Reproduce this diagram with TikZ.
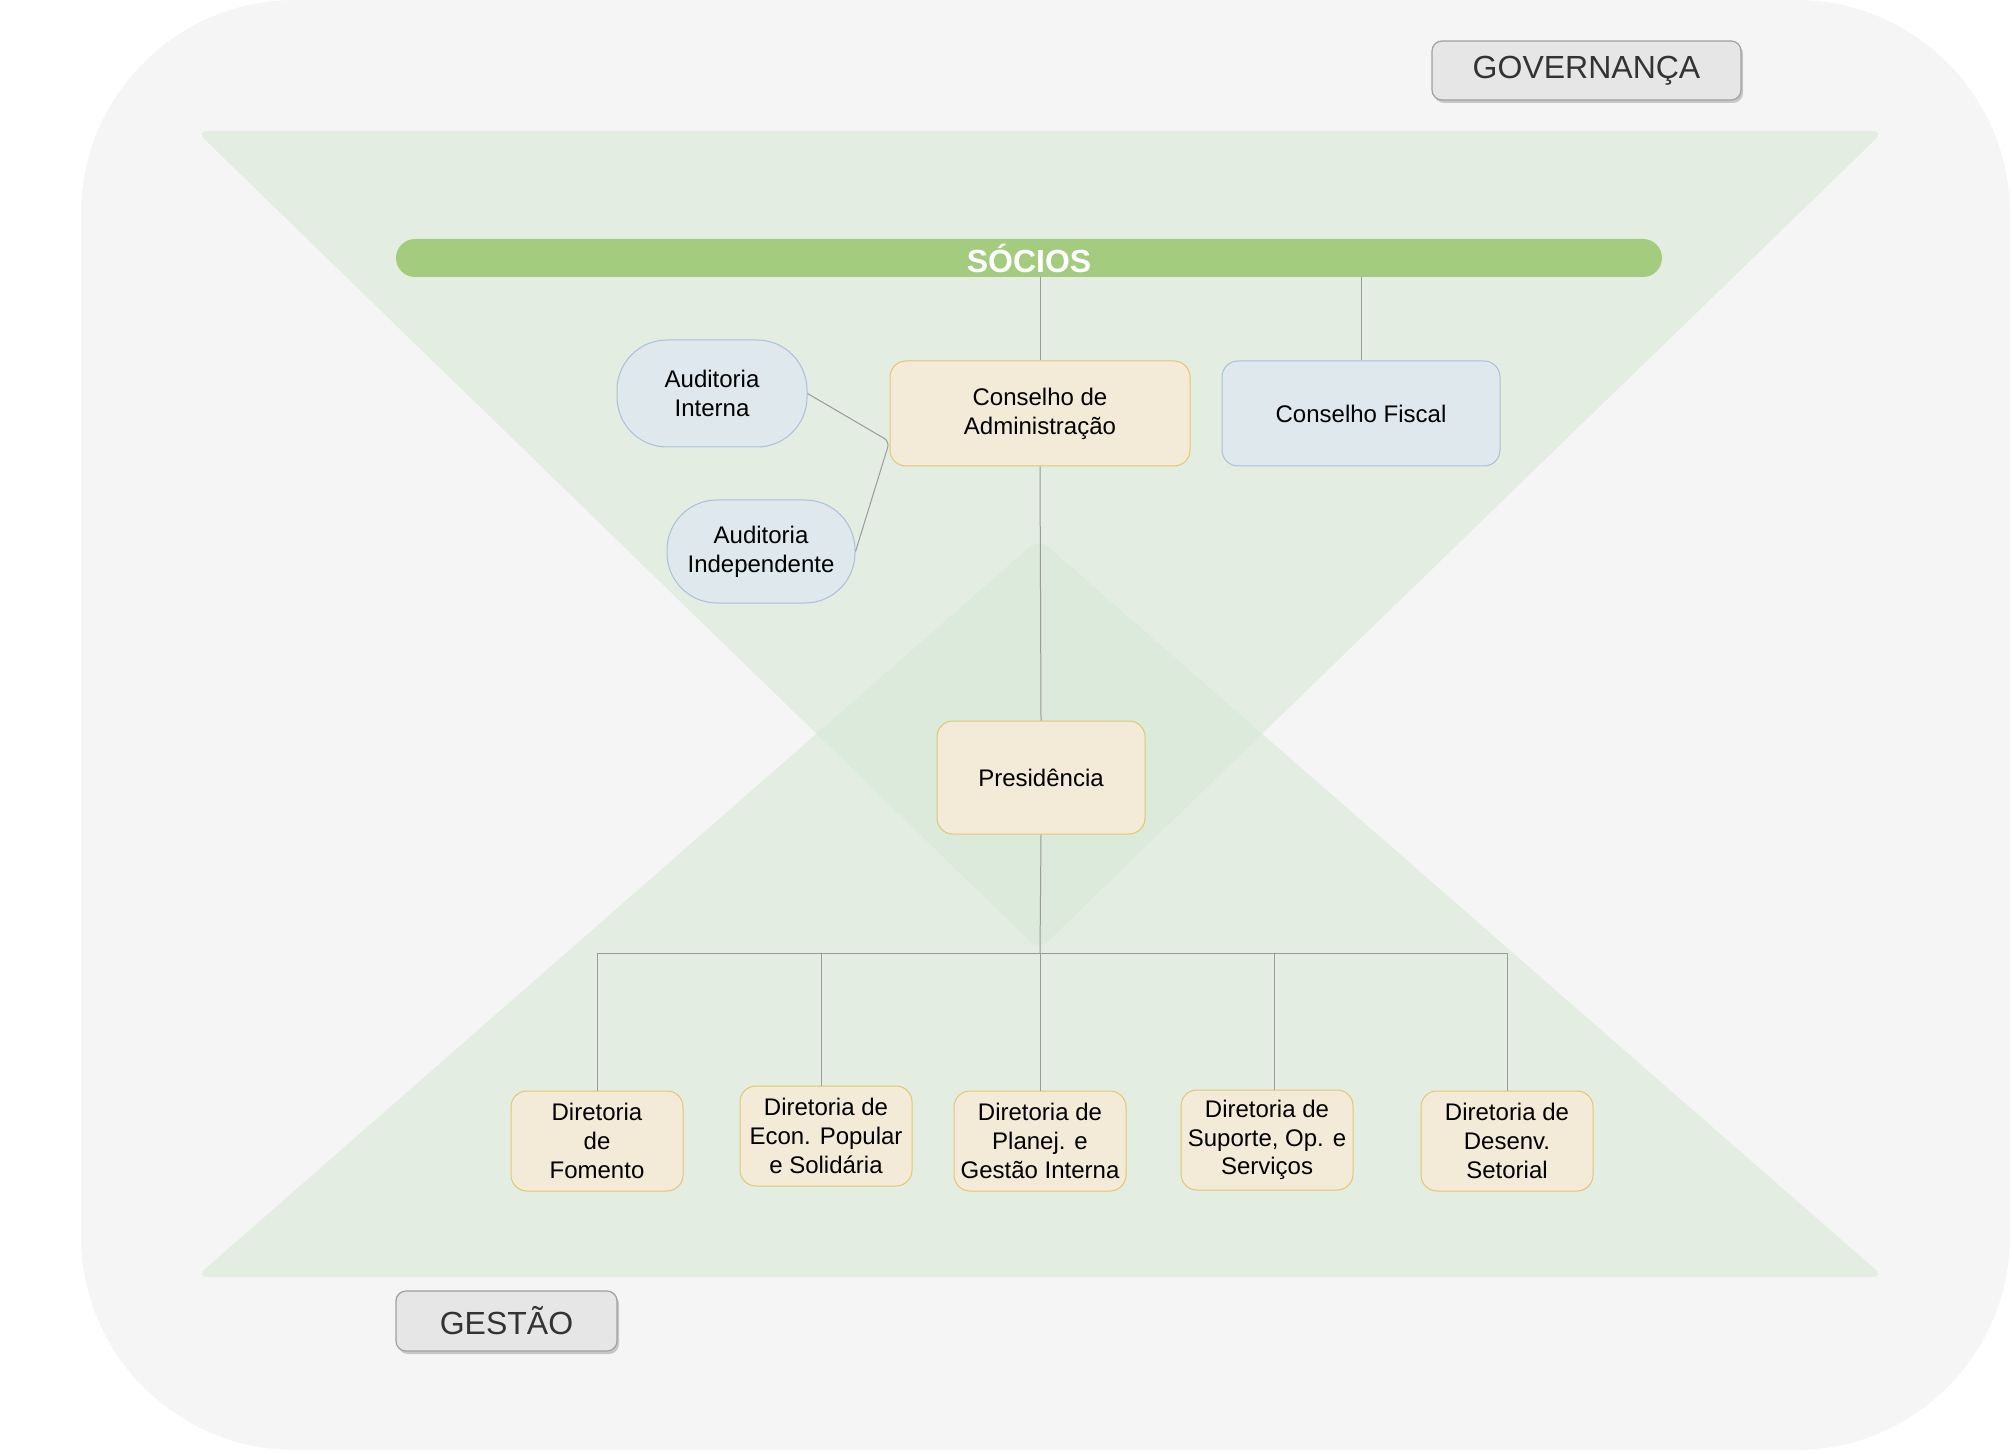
\documentclass[tikz,border=0pt]{standalone}
\usepackage{fontspec}
\setmainfont{Liberation Sans}
\usetikzlibrary{shadows,calc}
\definecolor{bgc}{HTML}{F5F5F5}
\definecolor{trig}{HTML}{D5E8D4}
\definecolor{barc}{HTML}{A3CC7F}
\definecolor{yfill}{HTML}{F3EBD8}
\definecolor{ydraw}{HTML}{E3C76E}
\definecolor{bfill}{HTML}{DEE8ED}
\definecolor{bdraw}{HTML}{A9C0D8}
\definecolor{linec}{HTML}{9A9A9A}
\definecolor{lblfill}{HTML}{E6E6E6}
\definecolor{lbldraw}{HTML}{A0A0A0}
\definecolor{txtc}{HTML}{333333}
\tikzset{
  base/.style={align=center, inner sep=2pt, font=\fontsize{12}{14.4}\selectfont, text=black, line width=0.5pt},
  ybox/.style={base, fill=yfill, draw=ydraw, rounded corners=8pt},
  bbox/.style={base, fill=bfill, draw=bdraw, rounded corners=8pt},
  pill/.style={base, fill=bfill, draw=bdraw, rounded corners=25pt},
  dir/.style={ybox, minimum width=86pt, minimum height=50pt},
  lbl/.style={fill=lblfill, draw=lbldraw, line width=0.6pt, rounded corners=5pt, text=txtc,
    font=\fontsize{16}{19}\selectfont,
    drop shadow={shadow xshift=1pt, shadow yshift=-1.5pt, fill=black!22, opacity=1}},
  conn/.style={draw=linec, line width=0.5pt},
  tri/.style={fill=trig, fill opacity=0.55, rounded corners=6pt}
}
\begin{document}
\begin{tikzpicture}[x=0.5pt,y=-0.5pt]
\useasboundingbox (0,0) rectangle (2012,1454);
% background
\fill[bgc, rounded corners=107pt] (81,0) rectangle (2010,1450);
% triangles
\fill[tri] (196,131) -- (1884,131) -- (1039,950) -- cycle;
\fill[tri] (1039,539) -- (1884,1277) -- (196,1277) -- cycle;
% labels
\node[lbl, minimum width=154.5pt, minimum height=29.5pt] (gov) at (1586.5,70.5) {GOVERNANÇA};
\node[lbl, minimum width=110.5pt, minimum height=30pt] (ges) at (506.5,1321) {GESTÃO};
% socios bar
\node[fill=barc, rounded corners=9.5pt, minimum width=633pt, minimum height=19pt, inner sep=0pt,
  text=white, font=\bfseries\fontsize{16}{19}\selectfont] (socios) at (1029,258) {SÓCIOS};
% governance nodes
\node[ybox, minimum width=150pt, minimum height=52.5pt] (cadm) at (1040,413.5) {Conselho de\\Administração};
\node[bbox, minimum width=139pt, minimum height=52.5pt] (cfis) at (1361,413.5) {Conselho Fiscal};
\node[pill, minimum width=95pt, minimum height=53.5pt] (audint) at (712,393.5) {Auditoria\\Interna};
\node[pill, minimum width=94pt, minimum height=51.5pt] (audind) at (761,551.5) {Auditoria\\Independente};
\node[ybox, minimum width=104pt, minimum height=56.5pt] (pres) at (1041,777.5) {Presidência};
% directors
\node[dir] (fom) at (597,1141) {Diretoria\\de\\Fomento};
\node[dir] (econ) at (826,1136) {Diretoria de\\Econ. Popular\\e Solidária};
\node[dir] (plan) at (1040,1141) {Diretoria de\\Planej. e\\Gestão Interna};
\node[dir] (sup) at (1267,1140) {Diretoria de\\Suporte, Op. e\\Serviços};
\node[dir] (des) at (1507,1141) {Diretoria de\\Desenv.\\Setorial};
% connectors
\draw[conn] (socios.south -| cadm.north) -- (cadm.north);
\draw[conn] (socios.south -| cfis.north) -- (cfis.north);
\draw[conn] (cadm.south) -- (pres.north);
\coordinate (bus) at (1040,953);
\draw[conn] (pres.south) -- (bus);
\draw[conn] (bus) -| (fom.north);
\draw[conn] (bus) -| ([xshift=-2.5pt]econ.north);
\draw[conn] (bus) -- (plan.north);
\draw[conn] (bus) -| ([xshift=3.5pt]sup.north);
\draw[conn] (bus) -| (des.north);
\draw[conn, rounded corners=3pt] (audint.east) -- ([yshift=-14pt]cadm.west) -- (audind.east);
\end{tikzpicture}
\end{document}
